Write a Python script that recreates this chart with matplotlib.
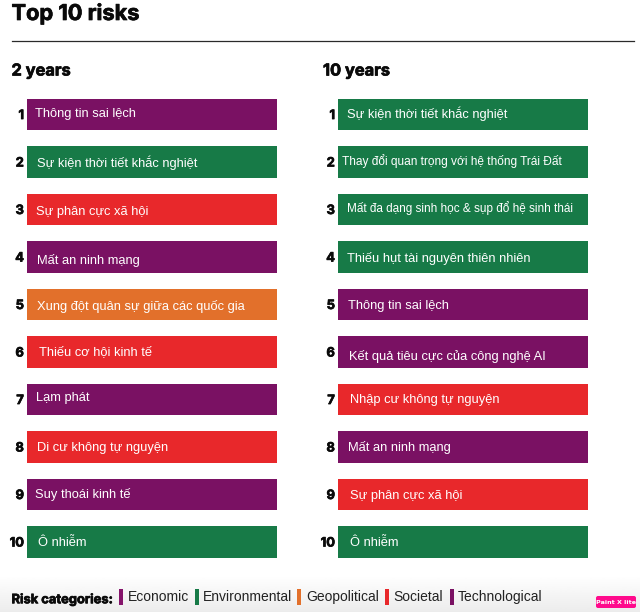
import numpy as np
import matplotlib
matplotlib.use("Agg")
import matplotlib.pyplot as plt
import matplotlib.patheffects as pe
from matplotlib.patches import FancyBboxPatch, Rectangle

W, H = 640, 612

# ---- data ----
ranks = [1, 2, 3, 4, 5, 6, 7, 8, 9, 10]
labels_2y = ["Thông tin sai lệch", "Sự kiện thời tiết khắc nghiệt", "Sự phân cực xã hội",
             "Mất an ninh mạng", "Xung đột quân sự giữa các quốc gia", "Thiếu cơ hội kinh tế",
             "Lạm phát", "Di cư không tự nguyện", "Suy thoái kinh tế", "Ô nhiễm"]
cats_2y = ["Technological", "Environmental", "Societal", "Technological", "Geopolitical",
           "Societal", "Technological", "Societal", "Technological", "Environmental"]
labels_10y = ["Sự kiện thời tiết khắc nghiệt", "Thay đổi quan trọng với hệ thống Trái Đất",
              "Mất đa dạng sinh học & sụp đổ hệ sinh thái", "Thiếu hụt tài nguyên thiên nhiên",
              "Thông tin sai lệch", "Kết quả tiêu cực của công nghệ AI",
              "Nhập cư không tự nguyện", "Mất an ninh mạng", "Sự phân cực xã hội", "Ô nhiễm"]
cats_10y = ["Environmental", "Environmental", "Environmental", "Environmental", "Technological",
            "Technological", "Societal", "Technological", "Societal", "Environmental"]
bar_values = [1] * 10
legend_names = ["Economic", "Environmental", "Geopolitical", "Societal", "Technological"]

# ---- style / layout ----
colors = {"Technological": "#7A1163", "Environmental": "#177A47",
          "Societal": "#E8282B", "Geopolitical": "#E2702B", "Economic": "#7A1163"}
legend_colors = ["#85146B", "#177A47", "#E2702B", "#E8282B", "#7A1163"]
legend_mark_x = [121, 197, 299, 387, 452]
legend_text_x = [128, 203, 306, 393, 458]
dx_2y = [8, 10, 9, 10, 10, 12, 9, 10, 8, 11]
dy_2y = [0, 0.5, 3, 3.5, 2, 0.5, -1, 1.5, 0, 1]
size_2y = [9.3] * 10
dx_10y = [9, 4, 9, 9, 10, 11, 12, 10, 12, 12]
dy_10y = [-1, -0.5, -1, 1.5, 1, 4.5, 1, 1, 2, 1]
size_10y = [9.3, 8.6, 8.5, 9.3, 9.3, 9.3, 9.3, 9.3, 9.3, 9.3]

LABEL = ["Liberation Sans", "DejaVu Sans"]
HEAD = ["Inter", "Open Sans", "DejaVu Sans"]
HEAVY = [pe.withStroke(linewidth=0.5, foreground="#0A0A0A")]

fig = plt.figure(figsize=(W / 100, H / 100), dpi=100, facecolor="white")

# full-figure pixel layer
bg = fig.add_axes([0, 0, 1, 1], zorder=0)
grad = np.linspace(1, 0.925, 60)[:, None]
bg.imshow(grad, extent=(0, W, H, 575), cmap="gray", vmin=0, vmax=1, aspect="auto", zorder=0)
bg.set_xlim(0, W)
bg.set_ylim(H, 0)
bg.axis("off")

bg.text(11.5, 13.5, "Top 10 risks", fontsize=15.7, fontweight="bold", family=HEAD,
        color="#0A0A0A", va="center", ha="left", path_effects=HEAVY)
bg.plot([11.5, 634], [40.5, 40.5], color="#2A2A2A", lw=0.9)
bg.text(11.5, 71, "2 years", fontsize=11.8, fontweight="bold", family=HEAD,
        color="#0A0A0A", va="center", ha="left", path_effects=HEAVY)
bg.text(323, 71, "10 years", fontsize=11.8, fontweight="bold", family=HEAD,
        color="#0A0A0A", va="center", ha="left", path_effects=HEAVY)


def panel(x0, labels, cats, dxs, dys, sizes):
    left = x0 / W
    width = 250 / W
    top = 90.75
    bottom = 565.75
    ax = fig.add_axes([left, 1 - bottom / H, width, (bottom - top) / H], zorder=1)
    ax.set_xlim(0, 1)
    ax.set_ylim(10.5, 0.5)
    ax.axis("off")
    ax.barh(ranks, bar_values, height=0.67, color=[colors[c] for c in cats], linewidth=0)
    for r, lab, dx, dy, fs in zip(ranks, labels, dxs, dys, sizes):
        ax.annotate(lab, xy=(0, r), xytext=(dx * 0.72, -dy * 0.72), textcoords="offset points",
                    color="white", fontsize=fs, family=LABEL, va="center", ha="left")
        ax.annotate(str(r), xy=(0, r), xytext=(-2.2, -1.1), textcoords="offset points",
                    color="#0A0A0A", fontsize=9.3, fontweight="bold", family=HEAD,
                    va="center", ha="right", path_effects=HEAVY)


panel(27, labels_2y, cats_2y, dx_2y, dy_2y, size_2y)
panel(338, labels_10y, cats_10y, dx_10y, dy_10y, size_10y)

# legend
bg.text(11.5, 600, "Risk categories:", fontsize=9.3, fontweight="bold", family=HEAD,
        color="#0A0A0A", va="center", ha="left", path_effects=HEAVY)
for name, col, mx, tx in zip(legend_names, legend_colors, legend_mark_x, legend_text_x):
    bg.add_patch(Rectangle((mx - 1.75, 589), 3.5, 16, color=col, lw=0, zorder=2))
    bg.text(tx, 597, name, fontsize=10, family=LABEL,
            color="#222222", va="center", ha="left")

# editor badge in the corner of the screenshot
bg.add_patch(FancyBboxPatch((596, 596), 40, 12, boxstyle="round,pad=0,rounding_size=2",
                            fc="#FF0A8C", ec="none", zorder=2))
bg.text(616, 602, "Paint X lite", fontsize=4.6, fontweight="bold", color="white",
        family=["DejaVu Sans"], va="center", ha="center", zorder=3)

fig.savefig("out.png", dpi=100)
